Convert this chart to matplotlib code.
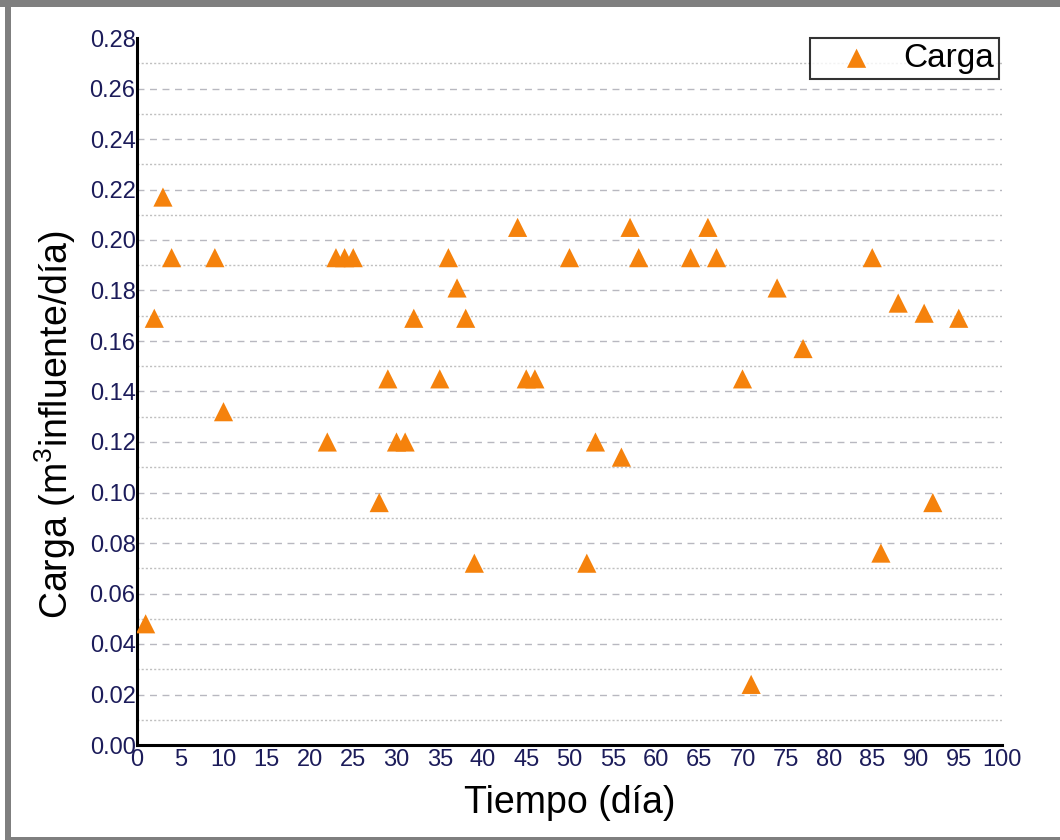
import matplotlib
matplotlib.use("Agg")
import matplotlib.pyplot as plt
from matplotlib.patches import Rectangle
from matplotlib.ticker import MultipleLocator, FormatStrFormatter

plt.rcParams['font.family'] = ['Liberation Sans', 'DejaVu Sans']
plt.rcParams['mathtext.fontset'] = 'custom'
plt.rcParams['mathtext.rm'] = 'Liberation Sans'
plt.rcParams['mathtext.it'] = 'Liberation Sans'

dias = [1, 2, 3, 4, 9, 10, 22, 23, 24, 25, 28, 29, 30, 31, 32, 35, 36, 37, 38, 39,
        44, 45, 46, 50, 52, 53, 56, 57, 58, 64, 66, 67, 70, 71, 74, 77, 85, 86, 88,
        91, 92, 95]
carga = [0.048, 0.169, 0.217, 0.193, 0.193, 0.132, 0.120, 0.193, 0.193, 0.193,
         0.096, 0.145, 0.120, 0.120, 0.169, 0.145, 0.193, 0.181, 0.169, 0.072,
         0.205, 0.145, 0.145, 0.193, 0.072, 0.120, 0.114, 0.205, 0.193, 0.193,
         0.205, 0.193, 0.145, 0.024, 0.181, 0.157, 0.193, 0.076, 0.175, 0.171,
         0.096, 0.169]

W, H = 1060, 840
fig = plt.figure(figsize=(W / 100, H / 100), dpi=100)
fig.patch.set_facecolor('white')

# gray outer frame (top, left, bottom)
def px_rect(x0, y0, w, h):
    fig.add_artist(Rectangle((x0 / W, 1 - (y0 + h) / H), w / W, h / H,
                             transform=fig.transFigure, facecolor='#7f7f7f',
                             edgecolor='none', clip_on=False))
px_rect(0, 0, W, 7)
px_rect(5, 0, 6, H)
px_rect(5, 837, W - 5, 3)

ax = fig.add_axes([137 / W, 1 - 745 / H, 865 / W, 707 / H])
ax.scatter(dias, carga, marker='^', s=190, color='#f5820c', edgecolors='none',
           zorder=3, label='Carga')

ax.set_xlim(0, 100)
ax.set_ylim(0, 0.28)
ax.xaxis.set_major_locator(MultipleLocator(5))
ax.yaxis.set_major_locator(MultipleLocator(0.02))
ax.yaxis.set_minor_locator(MultipleLocator(0.01))
ax.yaxis.set_major_formatter(FormatStrFormatter('%.2f'))

ax.grid(axis='y', which='major', linestyle=(0, (5, 4)), color='#b8b8c0', linewidth=1.0)
ax.grid(axis='y', which='minor', linestyle=(0, (1.5, 1.5)), color='#c0c0c0', linewidth=1.0)
ax.set_axisbelow(True)

for s in ['top', 'right']:
    ax.spines[s].set_visible(False)
for s in ['left', 'bottom']:
    ax.spines[s].set_linewidth(2.2)
    ax.spines[s].set_color('black')

ax.tick_params(axis='both', which='both', length=0, labelsize=17, labelcolor='#1c1c5a')
ax.tick_params(axis='y', pad=1)
ax.tick_params(axis='x', pad=3)

fig.text(570 / W, 1 - 803 / H, 'Tiempo (día)', ha='center', va='center', fontsize=27)
fig.text(55 / W, 1 - 425 / H, r'Carga (m$^{3}$influente/día)', ha='center', va='center',
         fontsize=27, rotation=90)

leg = ax.legend(loc='upper right', bbox_to_anchor=(999 / W, 1 - 38 / H),
                bbox_transform=fig.transFigure, fontsize=24, frameon=True, fancybox=False,
                handletextpad=0.15, borderpad=0.15, handlelength=2.5, borderaxespad=0)
leg.get_frame().set_edgecolor('black')
leg.get_frame().set_linewidth(1.5)

# no gridline on the top limit (0.28)
fig.canvas.draw()
for tick in ax.yaxis.get_major_ticks():
    if abs(tick.get_loc() - 0.28) < 1e-9:
        tick.gridline.set_visible(False)

fig.savefig('out.png', dpi=100)
